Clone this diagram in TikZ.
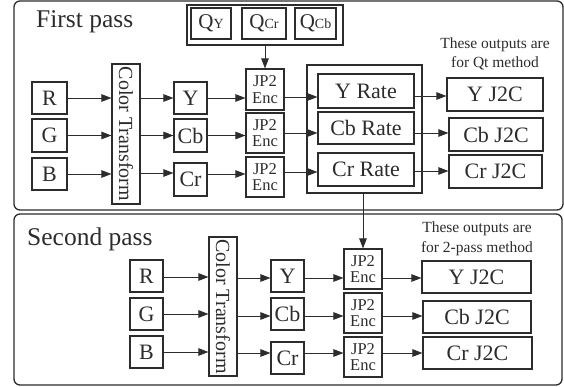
\documentclass[tikz,border=0pt]{standalone}
\usepackage{fontspec}
\setmainfont{Liberation Serif}
\usetikzlibrary{arrows.meta,calc}
\definecolor{ink}{RGB}{45,43,43}
\newcommand{\fs}[1]{\fontsize{#1}{#1}\selectfont}
\tikzset{
  box/.style={draw=ink, line width=1.1pt, inner sep=0pt, text=ink, font=\fs{22}},
  enc/.style={box, minimum width=38pt, minimum height=40pt, font=\fs{16.5}, align=center, text depth=0pt},
  grp/.style={draw=ink, line width=1.1pt, inner sep=0pt},
  panel/.style={draw=ink, line width=1.3pt, rounded corners=6pt},
  arr/.style={draw=ink, line width=0.9pt, -{Triangle[length=10pt,width=7.5pt]}},
  note/.style={text=ink, font=\fs{15.5}, inner sep=0pt},
  title/.style={text=ink, font=\fs{25.5}, inner sep=0pt, anchor=base west},
  qlab/.style={box, minimum height=31pt},
}
\begin{document}
\begin{tikzpicture}[x=1pt,y=-1pt]
\useasboundingbox (0,0) rectangle (564,387);
% panels
\draw[panel] (14,1) rectangle (563,210);
\draw[panel] (14,214) rectangle (562,385);
\node[title] (t1) at (36,28) {First pass};
\node[title] (t2) at (27,245) {Second pass};

% ---------- first pass ----------
\node[grp, minimum width=156pt, minimum height=40pt] (Q) at (265,25) {};
\node[qlab, minimum width=40pt] (QY) at (211,23.5) {{\fs{21}Q}{\fs{14}Y}};
\node[qlab, minimum width=44pt] (QCr) at (264,23.5) {{\fs{21}Q}{\fs{14}Cr}};
\node[qlab, minimum width=41pt] (QCb) at (315.5,23.5) {{\fs{21}Q}{\fs{14}Cb}};

\node[box, minimum width=35pt, minimum height=32pt] (R1) at (49.5,98) {R};
\node[box, minimum width=35pt, minimum height=33pt] (G1) at (49.5,135.5) {G};
\node[box, minimum width=35pt, minimum height=32pt] (B1) at (49.5,174) {B};
\node[box, minimum width=28pt, minimum height=140pt,
  label={[rotate=-90, text=ink, font=\fs{20}, inner sep=0pt]center:Color Transform}] (CT1) at (126,134) {};
\node[box, minimum width=33pt, minimum height=32pt] (Y1) at (190.5,98) {Y};
\node[box, minimum width=33pt, minimum height=33pt] (Cb1) at (190.5,135.5) {Cb};
\node[box, minimum width=33pt, minimum height=33pt] (Cr1) at (190.5,179.5) {Cr};
\node[enc, minimum height=41pt] (E1) at (265,89.5) {JP2\\Enc};
\node[enc] (E2) at (265,133) {JP2\\Enc};
\node[enc] (E3) at (265,177) {JP2\\Enc};
\node[grp, minimum width=115pt, minimum height=128pt] (RG) at (364.5,129) {};
\node[box, minimum width=96pt, minimum height=34pt] (YR) at (366,91) {Y Rate};
\node[box, minimum width=96pt, minimum height=32pt] (CbR) at (366,128) {Cb Rate};
\node[box, minimum width=96pt, minimum height=33pt] (CrR) at (366,169.5) {Cr Rate};
\node[box, minimum width=96pt, minimum height=33pt] (YJ1) at (495,94.5) {Y J2C};
\node[box, minimum width=94pt, minimum height=33pt] (CbJ1) at (496,134.5) {Cb J2C};
\node[box, minimum width=93pt, minimum height=33pt] (CrJ1) at (495.5,171.5) {Cr J2C};
\node[note] (n1a) at (495,45) {These outputs are};
\node[note] (n1b) at (495,63) {for Qt method};

\draw[arr] (Q.south) -- (E1.north);
\draw[arr] (R1.east) -- (R1.east -| CT1.west);
\draw[arr] (G1.east) -- (G1.east -| CT1.west);
\draw[arr] (B1.east) -- (B1.east -| CT1.west);
\draw[arr] (Y1.west -| CT1.east) -- (Y1.west);
\draw[arr] (Cb1.west -| CT1.east) -- (Cb1.west);
\draw[arr] ([yshift=6.5pt]Cr1.west -| CT1.east) -- ([yshift=6.5pt]Cr1.west);
\draw[arr] (Y1.east) -- (Y1.east -| E1.west);
\draw[arr] (Cb1.east) -- (Cb1.east -| E2.west);
\draw[arr] ([yshift=5.5pt]Cr1.east) -- ([yshift=5.5pt]Cr1.east -| E3.west);
\draw[arr] ([yshift=-7.5pt]E1.east) -- ([yshift=-7.5pt]E1.east -| YR.west);
\draw[arr] (E2.east) -- (E2.east -| CbR.west);
\draw[arr] ([yshift=5pt]E3.east) -- ([yshift=5pt]E3.east -| CrR.west);
\draw[arr] ([yshift=-5pt]YR.east) -- ([yshift=-5pt]YR.east -| YJ1.west);
\draw[arr] ([yshift=-5pt]CbR.east) -- ([yshift=-5pt]CbR.east -| CbJ1.west);
\draw[arr] ([yshift=-1.5pt]CrR.east) -- ([yshift=-1.5pt]CrR.east -| CrJ1.west);

% ---------- second pass ----------
\node[box, minimum width=33pt, minimum height=32pt] (R2) at (146.5,276) {R};
\node[box, minimum width=33pt, minimum height=32pt] (G2) at (146.5,314) {G};
\node[box, minimum width=33pt, minimum height=32pt] (B2) at (146.5,352) {B};
\node[box, minimum width=28pt, minimum height=139pt,
  label={[rotate=-90, text=ink, font=\fs{20}, inner sep=0pt]center:Color Transform}] (CT2) at (223,306.5) {};
\node[box, minimum width=33pt, minimum height=32pt] (Y2) at (287.5,276) {Y};
\node[box, minimum width=33pt, minimum height=32pt] (Cb2) at (287.5,314) {Cb};
\node[box, minimum width=33pt, minimum height=32pt] (Cr2) at (287.5,358) {Cr};
\node[enc] (F1) at (363,269) {JP2\\Enc};
\node[enc] (F2) at (363,313) {JP2\\Enc};
\node[enc] (F3) at (363,357) {JP2\\Enc};
\node[box, minimum width=109pt, minimum height=32pt] (YJ2) at (476.5,277) {Y J2C};
\node[box, minimum width=108pt, minimum height=32pt] (CbJ2) at (477,317) {Cb J2C};
\node[box, minimum width=109pt, minimum height=32pt] (CrJ2) at (477.5,353) {Cr J2C};
\node[note] (n2a) at (477,229) {These outputs are};
\node[note] (n2b) at (477,249) {for 2-pass method};

\draw[arr] (F1.north |- RG.south) -- (F1.north);
\draw[arr] ([yshift=-1pt]R2.east) -- ([yshift=-1pt]R2.east -| CT2.west);
\draw[arr] (G2.east) -- (G2.east -| CT2.west);
\draw[arr] (B2.east) -- (B2.east -| CT2.west);
\draw[arr] ([yshift=-2pt]Y2.west -| CT2.east) -- ([yshift=-2pt]Y2.west);
\draw[arr] ([yshift=-2pt]Cb2.west -| CT2.east) -- ([yshift=-2pt]Cb2.west);
\draw[arr] ([yshift=5pt]Cr2.west -| CT2.east) -- ([yshift=5pt]Cr2.west);
\draw[arr] ([yshift=-2pt]Y2.east) -- ([yshift=-2pt]Y2.east -| F1.west);
\draw[arr] ([yshift=-2pt]Cb2.east) -- ([yshift=-2pt]Cb2.east -| F2.west);
\draw[arr] ([yshift=5pt]Cr2.east) -- ([yshift=5pt]Cr2.east -| F3.west);
\draw[arr] ([yshift=-2pt]Y2.east -| F1.east) -- ([yshift=-2pt]Y2.east -| YJ2.west);
\draw[arr] ([yshift=-2pt]Cb2.east -| F2.east) -- ([yshift=-2pt]Cb2.east -| CbJ2.west);
\draw[arr] ([yshift=5pt]Cr2.east -| F3.east) -- ([yshift=5pt]Cr2.east -| CrJ2.west);
\end{tikzpicture}
\end{document}
